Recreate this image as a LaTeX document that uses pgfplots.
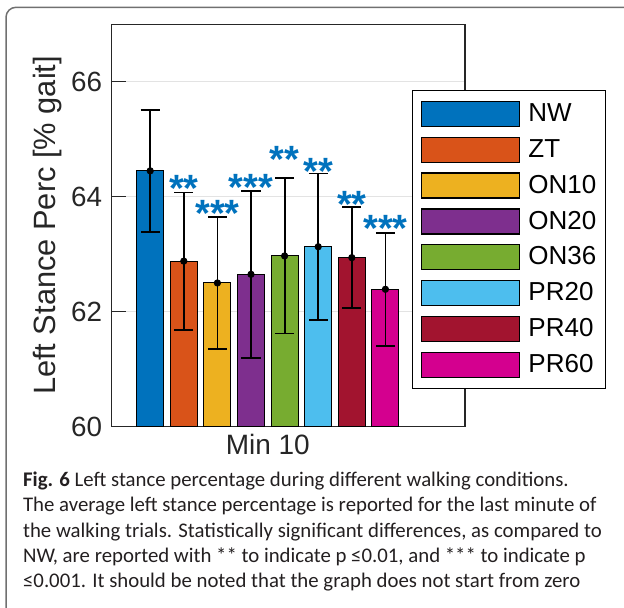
\documentclass[border=0pt]{standalone}
\usepackage{fontspec}
\setmainfont{Liberation Sans}
\newfontfamily\capfont{Carlito}
\usepackage{pgfplots}
\usepackage{pgfplotstable}
\pgfplotsset{compat=1.18}

\definecolor{cNW}{HTML}{0072BD}
\definecolor{cZT}{HTML}{D95319}
\definecolor{cONa}{HTML}{EDB120}
\definecolor{cONb}{HTML}{7E2F8E}
\definecolor{cONc}{HTML}{77AC30}
\definecolor{cPRa}{HTML}{4DBEEE}
\definecolor{cPRb}{HTML}{A2142F}
\definecolor{cPRc}{HTML}{D4008F}
\definecolor{axgray}{HTML}{262626}
\definecolor{gridgray}{HTML}{E3E3E3}
\definecolor{framegray}{HTML}{707070}
\definecolor{captext}{HTML}{231F20}

% mean and standard deviation per condition (x = bar centre)
\pgfplotstableread{
x     y      e
150.2 64.45  1.06
183.8 62.88  1.195
217.4 62.50  1.145
251.0 62.65  1.45
284.6 62.97  1.35
318.2 63.13  1.275
351.8 62.94  0.88
385.4 62.39  0.985
}\stance

% significance markers, placed above the error bars
\pgfplotstableread{
x     y      s
183.8 64.24  **
217.4 63.82  ***
251.0 64.27  ***
284.6 64.76  **
318.2 64.54  **
351.8 63.97  **
385.4 63.55  ***
}\signif

\pgfplotsset{
  mybar/.style={ybar, bar width=27, bar shift=0pt, fill=#1, draw=black,
    line width=0.5pt,
    legend image code/.code={\draw[##1,line width=0.6pt] (0pt,-6.25pt) rectangle (48.8pt,6.25pt);}},
}

\begin{document}
\begin{tikzpicture}
\useasboundingbox (0,0) rectangle (312pt,303.5pt);
\begin{scope}
\clip (0,0) rectangle (312pt,303.5pt);
\draw[framegray, line width=0.75pt, rounded corners=5pt]
  (3pt,-10pt) -- (3pt,299.85pt) -- (330pt,299.85pt);
\end{scope}

\begin{axis}[
  at={(55.85pt,90.15pt)}, anchor=south west,
  scale only axis, width=176.65pt, height=201.25pt,
  xmin=111.7, xmax=465, ymin=60, ymax=67,
  axis line style={axgray, line width=0.6pt},
  xtick={267.8}, xticklabels={Min 10},
  xtick style={draw=none},
  ytick={60,62,64,66},
  ytick pos=left, tick align=inside,
  major tick length=7pt,
  ytick style={axgray, line width=0.6pt},
  ymajorgrids, grid style={gridgray, line width=0.6pt},
  /pgf/number format/assume math mode=true,
  yticklabel style={font=\fontsize{13.9}{14}\selectfont, text=axgray, xshift=-1.25pt},
  xticklabel style={font=\fontsize{14}{15}\selectfont, text=axgray},
  ylabel={Left Stance Perc [\% gait]},
  ylabel style={at={(axis description cs:-0.1577,0.5)}, anchor=base,
    font=\fontsize{15.4}{16}\selectfont, text=axgray},
  legend style={at={(0.849,0.8365)}, anchor=north west, draw=black,
    line width=0.6pt, fill=white, font=\fontsize{13}{14}\selectfont,
    inner xsep=4.5pt, inner ysep=5pt, row sep=4.85pt, column sep=4.2pt,
    nodes={inner sep=0pt}, cells={anchor=west}},
]
\addplot[mybar=cNW] coordinates {(150.2,64.45)};
\addlegendentry{NW}
\addplot[mybar=cZT] coordinates {(183.8,62.88)};
\addlegendentry{ZT}
\addplot[mybar=cONa] coordinates {(217.4,62.50)};
\addlegendentry{ON10}
\addplot[mybar=cONb] coordinates {(251.0,62.65)};
\addlegendentry{ON20}
\addplot[mybar=cONc] coordinates {(284.6,62.97)};
\addlegendentry{ON36}
\addplot[mybar=cPRa] coordinates {(318.2,63.13)};
\addlegendentry{PR20}
\addplot[mybar=cPRb] coordinates {(351.8,62.94)};
\addlegendentry{PR40}
\addplot[mybar=cPRc] coordinates {(385.4,62.39)};
\addlegendentry{PR60}

\addplot[forget plot, only marks, mark=*, mark size=1.6pt, black,
  error bars/.cd, y dir=both, y explicit,
  error bar style={line width=0.9pt, black},
  error mark options={rotate=90, mark size=4.8pt, line width=0.9pt, black}]
  table[x=x, y=y, y error=e] {\stance};

\addplot[forget plot, draw=none, mark=none,
  nodes near coords, point meta=explicit symbolic,
  nodes near coords style={anchor=center, yshift=-3pt, text=cNW,
    font=\fontsize{19}{20}\selectfont\bfseries, inner sep=0pt}]
  table[x=x, y=y, meta=s] {\signif};
\end{axis}

\begin{scope}[captext, font=\capfont\fontsize{10.4}{12}\selectfont]
\node[anchor=base west, inner sep=0pt] at (11.35pt,60.15pt)
  {\textbf{Fig. 6} Left stance percentage during different walking conditions.};
\node[anchor=base west, inner sep=0pt] at (11.35pt,47.6pt)
  {The average left stance percentage is reported for the last minute of};
\node[anchor=base west, inner sep=0pt] at (11.35pt,35.0pt)
  {the walking trials. Statistically significant differences, as compared to};
\node[anchor=base west, inner sep=0pt] at (11.35pt,22.45pt)
  {NW, are reported with ** to indicate p ≤0.01, and *** to indicate p};
\node[anchor=base west, inner sep=0pt] at (11.35pt,9.85pt)
  {≤0.001. It should be noted that the graph does not start from zero};
\end{scope}
\end{tikzpicture}
\end{document}
